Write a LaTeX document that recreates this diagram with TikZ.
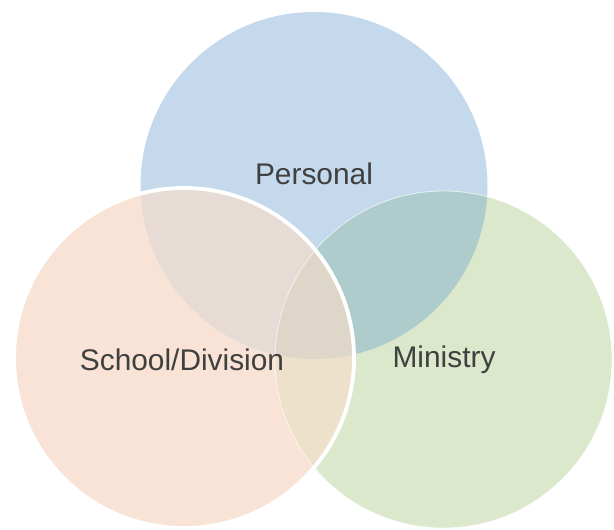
\documentclass[tikz,border=0pt]{standalone}
\usepackage{fontspec}
\setmainfont{Liberation Sans}
\usetikzlibrary{positioning}
\definecolor{vennblue}{RGB}{197,217,237}
\definecolor{venngreen}{RGB}{220,232,204}
\definecolor{vennorange}{RGB}{248,227,214}
\definecolor{bluegreen}{RGB}{173,204,203}
\definecolor{blueorange}{RGB}{230,219,213}
\definecolor{orangegreen}{RGB}{238,225,203}
\definecolor{venncenter}{RGB}{222,214,201}
\definecolor{labelgray}{RGB}{64,64,64}

\begin{document}
\begin{tikzpicture}[x=0.02cm, y=0.02cm,
    label/.style={text=labelgray, font=\fontsize{17}{20}\selectfont, inner sep=0pt}]
    \useasboundingbox (0,0) rectangle (614,529);

    % Circle centres
    \coordinate (pc) at (314,343.5);
    \coordinate (sc) at (184,171);
    \coordinate (mc) at (443.5,169.5);

    % Personal and Ministry
    \fill[vennblue] (pc) circle (173.5);
    \fill[venngreen] (mc) circle (168.5);
    \begin{scope}
        \clip (pc) circle (173.5);
        \fill[bluegreen] (mc) circle (168.5);
    \end{scope}
    \draw[white, opacity=0.6, line width=0.5pt] (mc) circle (168.5);

    % School/Division on top
    \fill[vennorange] (sc) circle (170);
    \begin{scope}
        \clip (sc) circle (170);
        \fill[blueorange] (pc) circle (173.5);
        \fill[orangegreen] (mc) circle (168.5);
        \clip (pc) circle (173.5);
        \fill[venncenter] (mc) circle (168.5);
    \end{scope}
    \begin{scope}
        \clip (sc) circle (170);
        \draw[white, opacity=0.6, line width=0.5pt] (mc) circle (168.5);
    \end{scope}
    \draw[white, line width=2.2pt] (sc) circle (170);

    % Labels
    \node[label] (personal) at (314,355) {Personal};
    \node[label] (school) at (182,169) {School/Division};
    \node[label] (ministry) at (444,169) {Ministry};
\end{tikzpicture}
\end{document}
